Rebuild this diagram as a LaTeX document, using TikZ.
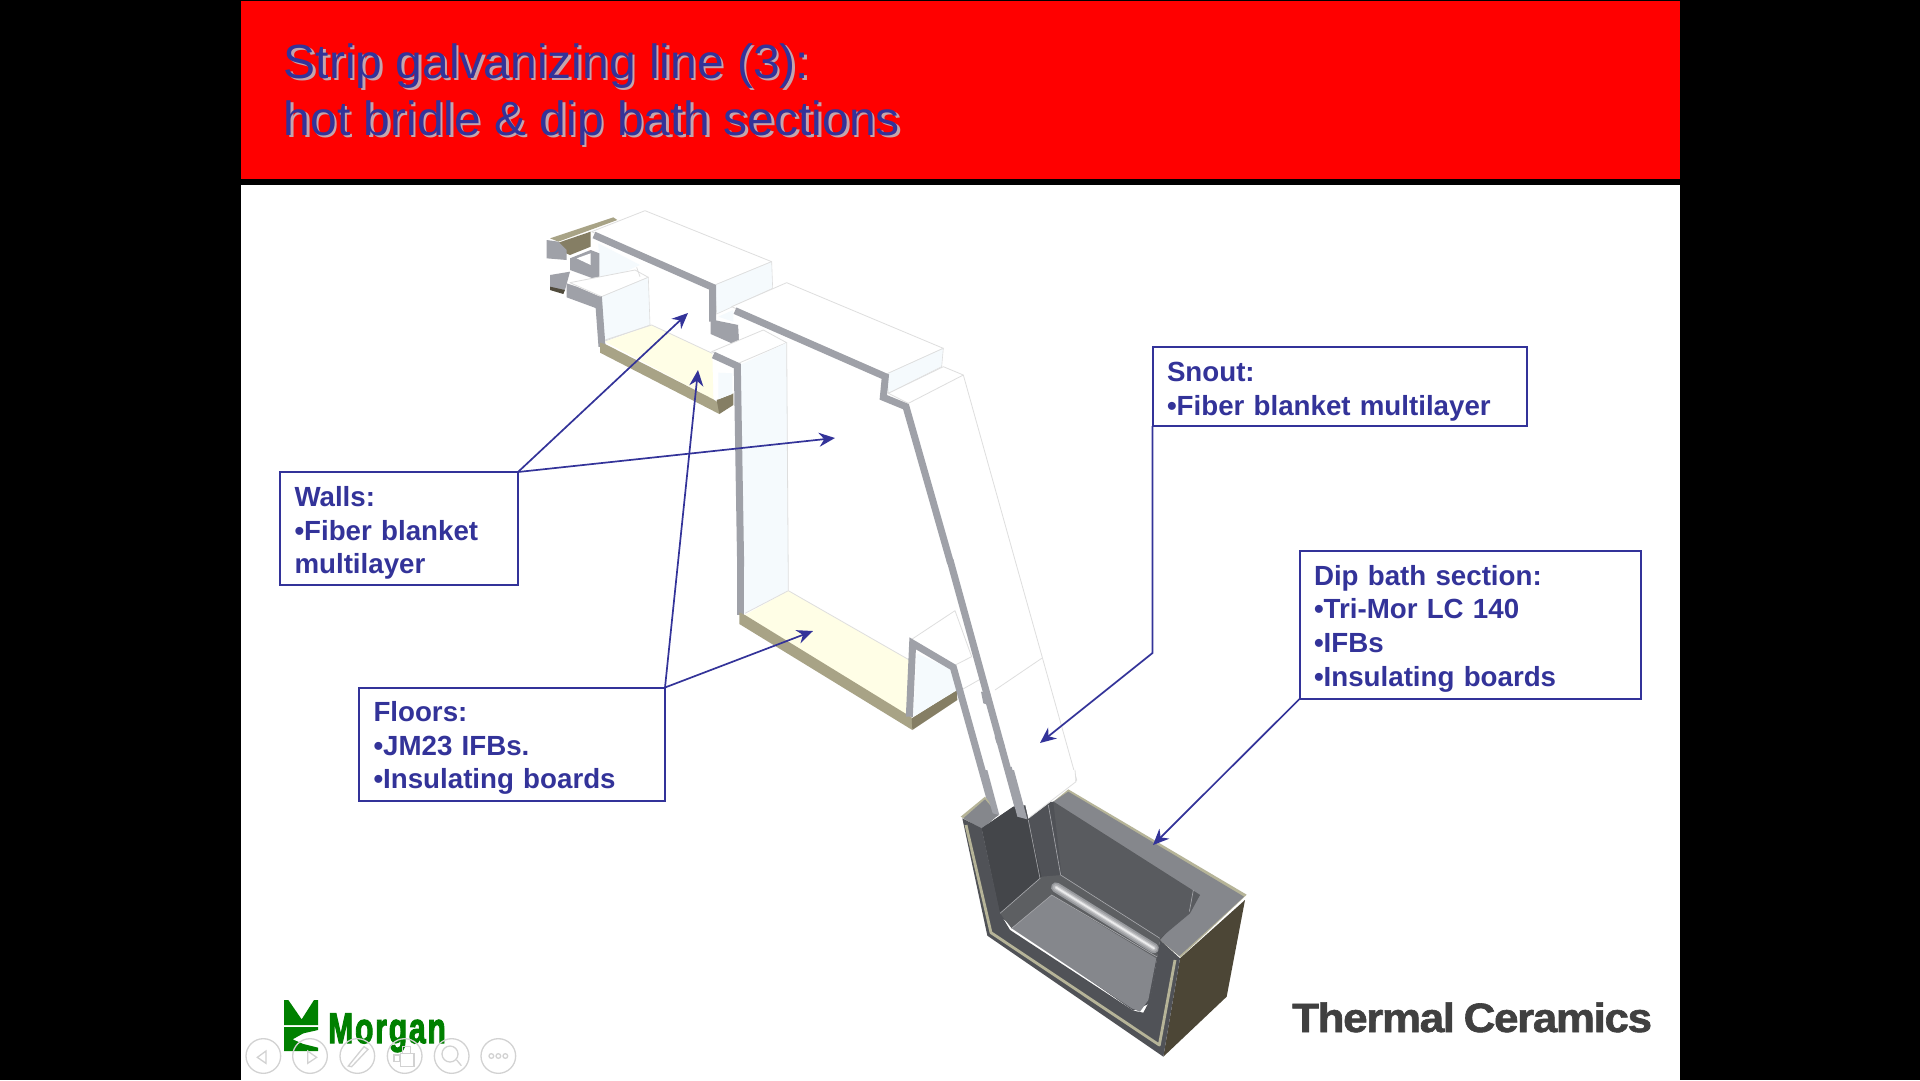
\documentclass[tikz,border=0pt]{standalone}
\usepackage{fontspec}
\setmainfont{Liberation Sans}
\newfontfamily\thermalfont[BoldFeatures={FakeBold=1.5},LetterSpace=-3]{Liberation Sans}
\newfontfamily\morganfont[BoldFeatures={FakeBold=3},LetterSpace=6]{Liberation Sans}
\usetikzlibrary{arrows.meta}
\definecolor{slideblue}{HTML}{333399}
\definecolor{titleshadow}{HTML}{C4A4AC}
\definecolor{wallgray}{HTML}{9FA1A8}
\definecolor{edgegray}{HTML}{DEDEDE}
\definecolor{iceface}{HTML}{F5FAFD}
\definecolor{floorcream}{HTML}{FFFEE6}
\definecolor{floorbrown}{HTML}{A8A386}
\definecolor{darkbrown}{HTML}{857E64}
\definecolor{rimgray}{HTML}{85878C}
\definecolor{bathdark}{HTML}{505257}
\definecolor{bathtan}{HTML}{B6B498}
\definecolor{bathside}{HTML}{4C4636}
\definecolor{logogreen}{HTML}{008000}
\definecolor{navgray}{HTML}{D2D2D2}
\newcommand{\boxstrut}[1]{\rule{0pt}{#1pt}}
\tikzset{
  zoomone/.style={shift={(520,190)},x=0.33333pt,y=-0.33333pt},
  zoomtwo/.style={shift={(700,560)},x=0.33333pt,y=-0.33333pt},
  zoombath/.style={shift={(930,770)},x=0.33333pt,y=-0.33333pt},
  zoomlogo/.style={shift={(240,980)},x=0.33333pt,y=-0.33333pt},
  cutwall/.style={draw=wallgray,line width=7pt,line join=miter},
  whiteface/.style={fill=white,draw=edgegray,line width=0.8pt,line join=round},
  iceplane/.style={fill=iceface,draw=edgegray,line width=0.6pt},
  thinedge/.style={draw=edgegray,line width=0.8pt},
  bathline/.style={draw=white!30!rimgray,line width=0.6pt},
  titletext/.style={anchor=base west,inner sep=0pt,text=slideblue,font=\fontsize{48}{56}\selectfont},
  titleshade/.style={titletext,text=titleshadow},
  infobox/.style={draw=slideblue,line width=2pt,fill=white,anchor=north west,outer sep=0pt,inner xsep=14.5pt,inner ysep=0pt,
    align=left,text=slideblue,font=\bfseries\fontsize{27.7}{33.8}\selectfont},
  infoarrow/.style={draw=slideblue,line width=1.7pt,-{Stealth[length=16pt,width=14pt]}},
  navring/.style={draw=navgray,line width=1.3pt}
}
\begin{document}
\begin{tikzpicture}[x=1pt,y=-1pt]
\useasboundingbox (0,0) rectangle (1920,1080);
\fill[black] (0,0) rectangle (1920,1080);
\fill[white] (241,185) rectangle (1680,1080);
\fill[red] (241,1) rectangle (1680,179);
\node[titleshade] (titleoneshade) at (286,80.5) {Strip galvanizing line (3):};
\node[titleshade] (titletwoshade) at (286,137.5) {hot bridle \& dip bath sections};
\node[titletext] (titleone) at (283.5,78) {Strip galvanizing line (3):};
\node[titletext] (titletwo) at (283.5,135) {hot bridle \& dip bath sections};
\begin{scope}[zoomone]
  \draw[whiteface] (215,125) -- (375,62) -- (755,215) -- (585,285) -- cycle;
  \draw[iceplane] (585,285) -- (755,215) -- (758,295) -- (590,372) -- cycle;
  \fill[iceface] (235,160) -- (360,225) -- (240,278) -- cycle;
  \fill[floorbrown] (90,145) -- (280,82) -- (292,90) -- (115,155) -- cycle;
  \fill[darkbrown] (115,158) -- (212,125) -- (212,170) -- (150,195) -- (115,180) -- cycle;
  \fill[wallgray] (80,150) -- (115,155) -- (140,180) -- (140,210) -- (80,205) -- cycle;
  \fill[wallgray] (150,205) -- (212,180) -- (238,190) -- (238,272) -- (150,240) -- cycle;
  \fill[white] (170,205) -- (212,190) -- (212,225) -- cycle;
  \fill[wallgray] (90,255) -- (150,245) -- (135,300) -- (90,295) -- cycle;
  \fill[darkbrown!60!black] (90,290) -- (135,300) -- (130,312) -- (90,300) -- cycle;
  \fill[wallgray] (140,280) -- (170,290) -- (240,320) -- (243,360) -- (140,322) -- cycle;
  \draw[whiteface] (150,278) -- (345,240) -- (385,262) -- (245,320) -- cycle;
  \draw[iceplane] (245,320) -- (385,262) -- (390,405) -- (250,455) -- cycle;
  \draw[cutwall] (235,320) -- (246,470);
  \draw[thinedge] (350,232) -- (360,260);
  \fill[floorcream] (255,455) -- (395,405) -- (577,490) -- (580,628) -- cycle;
  \draw[thinedge] (255,450) -- (395,405) -- (577,490);
  \fill[floorbrown] (240,458) -- (255,462) -- (580,628) -- (598,640) -- (598,672) -- (240,488) -- cycle;
  \fill[darkbrown] (590,630) -- (640,610) -- (640,645) -- (598,672) -- cycle;
  \draw[cutwall] (222,135) -- (578,292) -- (578,395);
  \fill[wallgray] (572,388) -- (655,405) -- (658,470) -- (572,432) -- cycle;
  \fill[white] (655,405) -- (735,435) -- (658,470) -- cycle;
  \fill[iceface] (595,380) -- (640,360) -- (640,395) -- cycle;
  \draw[whiteface] (575,485) -- (730,420) -- (800,458) -- (655,520) -- cycle;
  \fill[iceface] (595,548) -- (637,550) -- (637,612) -- (595,628) -- cycle;
  \fill[iceface] (660,525) -- (800,458) -- (805,1200) -- (672,1270) -- cycle;
  \draw[thinedge] (800,458) -- (805,1200);
  \draw[cutwall] (580,495) -- (652,528) -- (662,1130);
  \draw[whiteface] (635,350) -- (800,278) -- (1270,475) -- (1100,552) -- cycle;
  \draw[iceplane] (1100,552) -- (1270,475) -- (1265,530) -- (1105,610) -- cycle;
  \draw[whiteface] (1105,610) -- (1270,530) -- (1330,555) -- (1165,640) -- cycle;
  \draw[thinedge] (1330,555) -- (1485,1110);
  \draw[cutwall] (645,362) -- (1096,560) -- (1090,622) -- (1158,650) -- (1292,1120);
\end{scope}
\begin{scope}[zoomtwo]
  \draw[cutwall] (122,0) -- (122,165);
  \fill[floorcream] (135,165) -- (265,92) -- (628,300) -- (620,465) -- cycle;
  \draw[thinedge] (135,160) -- (265,92) -- (628,300);
  \fill[floorbrown] (118,157) -- (135,165) -- (635,472) -- (637,510) -- (118,192) -- cycle;
  \fill[darkbrown] (635,475) -- (770,390) -- (772,420) -- (637,510) -- cycle;
  \fill[iceface] (650,280) -- (760,330) -- (772,390) -- (640,470) -- cycle;
  \draw[whiteface] (632,240) -- (765,152) -- (815,290) -- (760,318) -- cycle;
  \draw[thinedge] (775,395) -- (840,358);
  \draw[thinedge] (885,390) -- (1025,295);
  \draw[thinedge] (945,0) -- (1130,660) -- (990,760);
  \draw[cutwall] (628,470) -- (638,250) -- (760,322) -- (885,770);
  \draw[cutwall] (750,0) -- (965,780);
  \fill[wallgray] (843,395) -- (870,400) -- (880,440) -- (850,430) -- cycle;
  \fill[wallgray] (884,530) -- (905,530) -- (915,560) -- (890,550) -- cycle;
  \fill[wallgray] (915,630) -- (935,620) -- (945,660) -- (922,655) -- cycle;
\end{scope}
\begin{scope}[zoombath]
  \fill[bathtan] (92,140) -- (165,80) -- (205,130) -- (155,175) -- cycle;
  \fill[bathtan] (415,58) -- (950,374) -- (752,562) -- (690,510) -- (810,375) -- (370,95) -- cycle;
  \fill[rimgray] (100,145) -- (165,88) -- (205,135) -- (155,178) -- cycle;
  \fill[rimgray] (415,65) -- (942,380) -- (748,558) -- (690,510) -- (810,375) -- (370,95) -- cycle;
  \fill[bathside] (750,565) -- (945,390) -- (890,680) -- (700,860) -- cycle;
  \fill[bathdark] (155,175) -- (250,110) -- (370,95) -- (810,375) -- (690,510) -- (660,700) -- (610,722) -- (210,440) -- cycle;
  \fill[bathdark!85!black] (155,175) -- (250,110) -- (295,150) -- (335,320) -- (210,430) -- cycle;
  \fill[bathdark] (295,150) -- (360,100) -- (395,315) -- (335,320) -- cycle;
  \fill[bathdark!95!white] (370,95) -- (810,375) -- (780,430) -- (690,505) -- (395,315) -- cycle;
  \fill[rimgray] (245,475) -- (365,375) -- (680,560) -- (655,690) -- (630,725) -- (605,715) -- cycle;
  \fill[rimgray!70!black] (210,430) -- (335,320) -- (395,315) -- (690,505) -- (680,565) -- (365,375) -- (245,475) -- cycle;
  \foreach \lw/\sh in {10/15,6.5/35,3.5/60,1.5/85}
    \draw[white!\sh!rimgray,line width=\lw pt,line cap=round] (378,352) -- (672,535);
  \draw[bathline] (295,150) -- (330,325) -- (210,430);
  \draw[bathline] (355,105) -- (392,315) -- (690,505);
  \draw[bathline] (245,475) -- (365,375) -- (680,560);
  \draw[bathline] (790,360) -- (778,425);
  \fill[bathdark] (97,145) -- (155,175) -- (210,430) -- (240,480) -- (610,722) -- (640,728) -- (660,690) -- (690,510) -- (750,565) -- (700,860) -- (172,497) -- cycle;
  \draw[bathtan,line width=2.8pt,line join=round] (108,165) -- (183,488) -- (688,825) -- (735,570);
  \fill[white] (295,145) -- (262,0) -- (435,0) -- (435,40) -- cycle;
  \draw[thinedge] (435,0) -- (438,35) -- (295,145);
  \fill[wallgray] (150,0) -- (172,0) -- (208,135) -- (188,130) -- cycle;
  \fill[wallgray] (225,0) -- (252,0) -- (292,148) -- (262,140) -- cycle;
\end{scope}
\begin{scope}[zoomlogo]
  \fill[logogreen] (132,60) -- (145,60) -- (185,118) -- (222,60) -- (234,60) -- (234,135) -- (132,135) -- cycle;
  \fill[logogreen] (132,141) -- (234,141) -- (234,150) -- (190,160) -- (158,178) -- (190,192) -- (234,203) -- (234,213) -- (132,213) -- cycle;
\end{scope}
\node[anchor=base west,inner sep=0pt,text=logogreen,font=\morganfont\bfseries\fontsize{43}{50}\selectfont] (morganlogo) at (328,1043) {\scalebox{0.7}[1]{Morgan}};
\node[anchor=base west,inner sep=0pt,text=black!75,font=\thermalfont\bfseries\fontsize{41}{48}\selectfont] (thermallogo) at (1292,1032) {\scalebox{1.07}[1]{Thermal\hspace{-2pt} Ceramics}};
\begin{scope}[zoomlogo]
  \foreach \cx in {70,210,352,494,635,775}
    \draw[navring] (\cx,228) circle[radius=52];
  \draw[navring] (78,213) -- (78,250) -- (52,232) -- cycle;
  \draw[navring] (203,213) -- (203,250) -- (230,232) -- cycle;
  \draw[navring] (325,258) -- (372,200) -- (384,208) -- (335,260) -- cycle;
  \draw[navring] (462,225) rectangle (478,245);
  \draw[navring] (488,200) rectangle (512,220);
  \draw[navring] (482,220) rectangle (522,260);
  \draw[navring] (630,222) circle[radius=24];
  \draw[navring] (650,240) -- (664,257);
  \foreach \cx in {754,775,796}
    \draw[navring] (\cx,228) circle[radius=7];
\end{scope}
\node[infobox,minimum width=238pt,minimum height=113pt,text width=209pt] (wallsbox) at (280,472) {\boxstrut{29}Walls:\\•Fiber blanket\\multilayer};
\node[infobox,minimum width=306pt,minimum height=113pt,text width=277pt] (floorsbox) at (359,687.5) {\boxstrut{28}Floors:\\•JM23 IFBs.\\•Insulating boards};
\node[infobox,minimum width=374pt,minimum height=79pt,text width=345pt] (snoutbox) at (1152.5,347) {\boxstrut{29.5}Snout:\\•Fiber blanket multilayer};
\node[infobox,minimum width=341pt,minimum height=148pt,text width=312pt] (dipbox) at (1299.5,551) {\boxstrut{27.5}Dip bath section:\\•Tri-Mor LC 140\\•IFBs\\•Insulating boards};
\coordinate (wallstipa) at (688,313);
\coordinate (wallstipb) at (835,438);
\coordinate (floorstipa) at (698,370);
\coordinate (floorstipb) at (813,631);
\coordinate (snoutbend) at (1152.5,653);
\coordinate (snouttip) at (1040,743);
\coordinate (diptip) at (1153,845);
\draw[infoarrow] (wallsbox.north east) -- (wallstipa);
\draw[infoarrow] (wallsbox.north east) -- (wallstipb);
\draw[infoarrow] (floorsbox.north east) -- (floorstipa);
\draw[infoarrow] (floorsbox.north east) -- (floorstipb);
\draw[infoarrow] (snoutbox.south west) -- (snoutbend) -- (snouttip);
\draw[infoarrow] (dipbox.south west) -- (diptip);
\end{tikzpicture}
\end{document}
